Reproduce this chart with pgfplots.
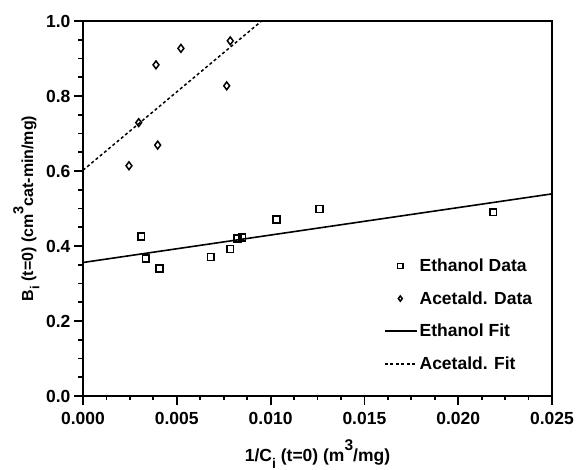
\documentclass[border=0pt]{standalone}
\usepackage{fontspec}
\setmainfont{Liberation Sans}
\usepackage{pgfplots}
\pgfplotsset{compat=1.18}
\pgfplotsset{
  markleg/.style={legend image code/.code={\draw[##1, mark size=2.6pt] plot coordinates {(15.5pt,0pt)};}},
  lineleg/.style={legend image code/.code={\draw[##1] (0pt,0pt) -- (32pt,0pt);}},
}
\newcommand{\mysup}[1]{\raisebox{0.62em}{\fontsize{15.5}{16}\selectfont #1}}
\newcommand{\mysub}[1]{\raisebox{-0.38em}{\fontsize{14}{15}\selectfont #1}}
\newcommand{\mysupy}[1]{\raisebox{0.62em}{\fontsize{14.5}{15}\selectfont #1}}
\newcommand{\mysuby}[1]{\raisebox{-0.38em}{\fontsize{13}{14}\selectfont #1}}
\begin{document}
\begin{tikzpicture}
\begin{axis}[
  scale only axis, width=469pt, height=375pt,
  xmin=0, xmax=0.025, ymin=0, ymax=1.0,
  xtick={0,0.005,0.01,0.015,0.02,0.025},
  ytick={0,0.2,0.4,0.6,0.8,1.0},
  minor tick num=3,
  tick align=outside, tick pos=left,
  major tick length=9pt, minor tick length=4.5pt,
  axis line style={line width=2.6pt},
  every tick/.style={line width=1.8pt, black},
  scaled x ticks=false,
  /pgf/number format/assume math mode=true,
  x tick label style={/pgf/number format/fixed, /pgf/number format/fixed zerofill, /pgf/number format/precision=3, yshift=-4pt},
  y tick label style={/pgf/number format/fixed, /pgf/number format/fixed zerofill, /pgf/number format/precision=1},
  tick label style={font=\fontsize{17.5}{19}\selectfont\bfseries},
  label style={font=\fontsize{17.5}{20}\selectfont\bfseries},
  xlabel style={yshift=-8pt},
  ylabel style={font=\fontsize{16}{18}\selectfont\bfseries},
  xlabel={1/C\mysub{i} (t=0) (m\mysup{3}/mg)},
  ylabel={B\mysuby{i} (t=0) (cm\mysupy{3}cat-min/mg)},
  legend style={draw=none, fill=none, at={(0.635,0.377)}, anchor=north west,
    font=\fontsize{17.5}{20}\selectfont\bfseries, row sep=14.5pt,
    nodes={inner xsep=2pt}},
  legend cell align=left,
]
\addplot[only marks, mark=square, mark size=3.4pt, mark options={line width=1.5pt, solid}, markleg]
  coordinates {
  (0.00311,0.425) (0.00334,0.367) (0.00407,0.340) (0.00681,0.371)
  (0.00785,0.392) (0.00823,0.420) (0.00849,0.423) (0.01032,0.471)
  (0.0126,0.499) (0.02187,0.490)};
\addlegendentry{Ethanol Data}
\addplot[only marks, mark=diamond, mark size=3.9pt, mark options={line width=1.5pt, solid}, markleg]
  coordinates {
  (0.00245,0.614) (0.00297,0.729) (0.00389,0.883) (0.00398,0.669)
  (0.00522,0.927) (0.00766,0.827) (0.00785,0.947)};
\addlegendentry{Acetald. Data}
\addplot[line width=1.6pt, no marks, lineleg] coordinates {(0,0.356) (0.025,0.539)};
\addlegendentry{Ethanol Fit}
\addplot[line width=1.5pt, no marks, dash pattern=on 3pt off 2.5pt, lineleg] coordinates {(0,0.602) (0.00952,1.0)};
\addlegendentry{Acetald. Fit}
\end{axis}
\pgfresetboundingbox
\path ([shift={(-83pt,-74pt)}]current axis.south west) rectangle ([shift={(26pt,21pt)}]current axis.north east);
\end{tikzpicture}
\end{document}
